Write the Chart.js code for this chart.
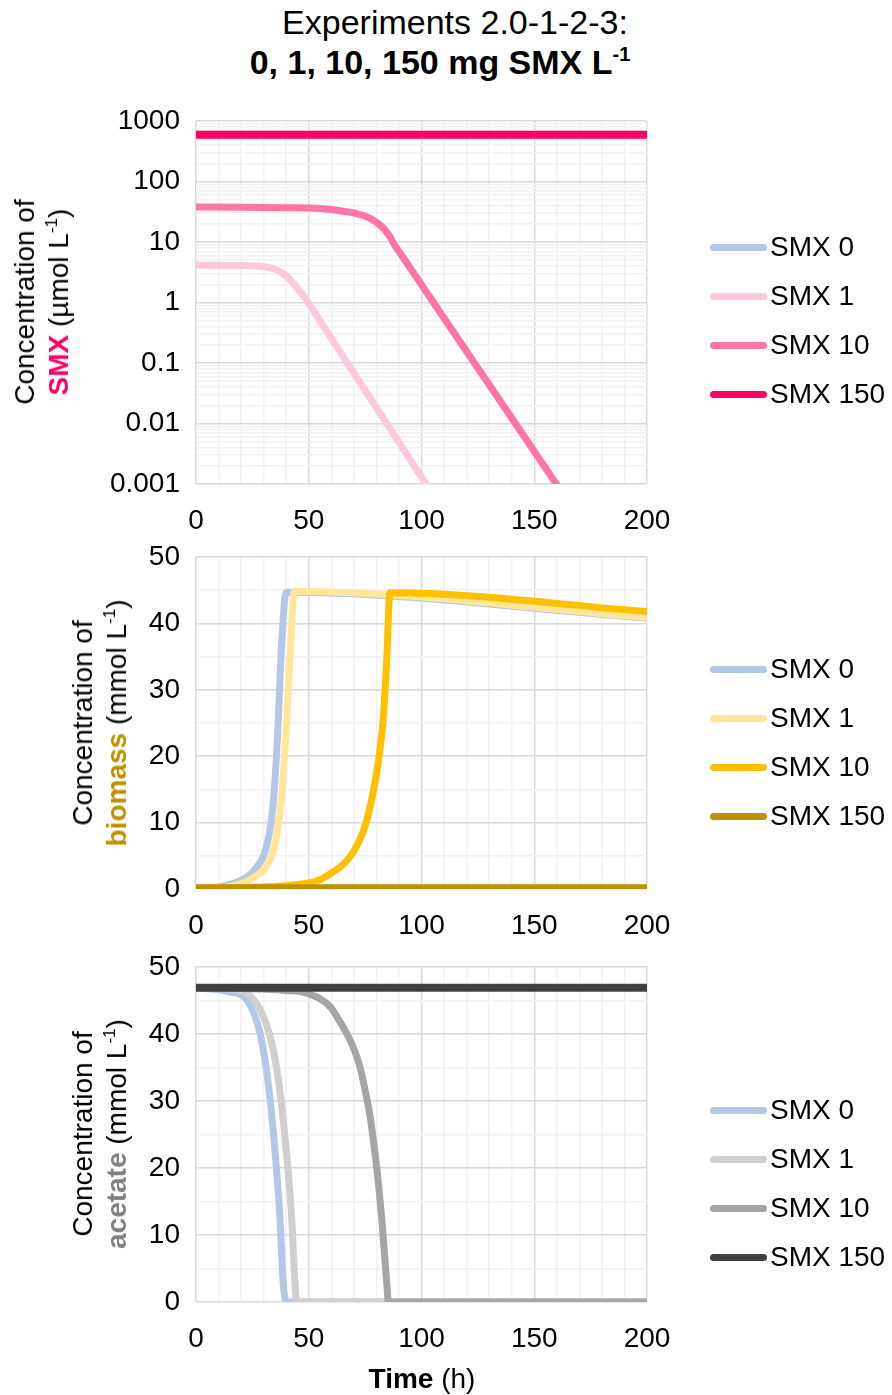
<!DOCTYPE html>
<html>
<head>
<meta charset="utf-8">
<script src="https://cdn.jsdelivr.net/npm/chart.js@4"></script>
<style>
  body { margin: 0; background: #fff; font-family: 'Liberation Sans', Arial, sans-serif; }
  #page { position: relative; width: 892px; height: 1395px; overflow: hidden; }
  canvas { position: absolute; left: 0; }
  .txt { position: absolute; white-space: nowrap; color: #000; font-size: 28px; line-height: 34px; }
  .title { transform: translateX(-50%); text-align: center; font-size: 34px; line-height: 40px; }
  .title sup { font-size: 20px; vertical-align: 13px; }
  .ytitle { transform: translate(-50%, -50%) rotate(-90deg); text-align: center; }
  sup { font-size: 17px; vertical-align: 11px; line-height: 0; }
  .leg { position: absolute; left: 710px; font-size: 28px; white-space: nowrap; }
  .leg span.ln { position: absolute; left: 0; top: -3px; width: 57px; height: 7px; border-radius: 3.5px; }
  .leg span.lb { position: absolute; left: 60px; top: -16px; }
</style>
</head>
<body>
<div id="page">
  <div class="txt title" style="left:455px; top:2px">Experiments 2.0-1-2-3:</div>
  <div class="txt title" style="left:440px; top:42px"><b>0, 1, 10, 150 mg SMX L<sup>-1</sup></b></div>

  <canvas id="c1" width="892" height="440" style="top:100px"></canvas>
  <canvas id="c2" width="892" height="410" style="top:540px"></canvas>
  <canvas id="c3" width="892" height="445" style="top:950px"></canvas>

  <div class="txt ytitle" style="left:42px; top:302px">Concentration of<br><b style="color:#FF0066">SMX</b> (µmol L<sup>-1</sup>)</div>
  <div class="txt ytitle" style="left:100px; top:723px">Concentration of<br><b style="color:#BF9000">biomass</b> (mmol L<sup>-1</sup>)</div>
  <div class="txt ytitle" style="left:100px; top:1134px">Concentration of<br><b style="color:#808080">acetate</b> (mmol L<sup>-1</sup>)</div>

  <div class="txt" style="left:422px; top:1362px; transform:translateX(-50%)"><b>Time</b> (h)</div>

  <div id="leg1"></div>
  <div id="leg2"></div>
  <div id="leg3"></div>
</div>

<script>
// legend names
var seriesNames = ['SMX 0', 'SMX 1', 'SMX 10', 'SMX 150'];

// x axis (time, h)
var timeMin = 0, timeMax = 200;

// SMX concentration (umol/L), log axis
var logTicks = [0.001, 0.01, 0.1, 1, 10, 100, 1000];
var smx0T = [0, 200];
var smx0V = [null, null];
var smx1T = [0, 20, 30, 34, 37.2, 40, 43, 45, 47.5, 50, 102, 120];
var smx1V = [4.15, 4.1, 3.9, 3.65, 3.25, 2.75, 2.1, 1.7, 1.33, 0.96, 0.001, 0.00009];
var smx10T = [0, 20, 40, 50.6, 60, 66.8, 72, 75.7, 79, 81.6, 84, 86, 88, 90.5, 100, 120, 140, 160, 200];
var smx10V = [38, 37.5, 36.8, 36.5, 34.5, 31.7, 29, 26.2, 22.5, 19.1, 15.5, 12.2, 9.0, 6.6, 1.96, 0.155, 0.0123, 0.00097, 0.000006];
var smx150T = [0, 200];
var smx150V = [590, 590];

// biomass (mmol/L)
var bio0T = [0, 10, 15, 20, 25, 28, 30, 32, 34, 36, 38, 40, 200];
var bio0V = [0.1, 0.3, 0.7, 1.3, 2.5, 3.8, 5, 7.5, 12, 22, 37, 44.7, 40.8];
var bio1T = [0, 10, 15, 20, 25, 28.4, 30, 33.5, 36, 38, 40, 42, 43.6, 200];
var bio1V = [0.1, 0.2, 0.4, 0.8, 1.6, 2.4, 2.9, 4.9, 8.5, 14, 24, 37, 44.8, 40.9];
var bio10T = [0, 20, 30, 40, 50, 55, 60, 65, 70, 75, 78.5, 81, 83, 84.5, 86, 200];
var bio10V = [0.1, 0.2, 0.3, 0.5, 0.9, 1.4, 2.4, 3.6, 5.7, 9.5, 14.5, 19.5, 25.5, 34, 44.6, 41.8];
var bio150T = [0, 200];
var bio150V = [0.1, 0.1];

// acetate (mmol/L)
var ace0T = [0, 15, 22.5, 28.4, 32, 35, 37.2, 38.7, 40, 200];
var ace0V = [46.9, 46.3, 45.1, 40.1, 32.7, 22.7, 12.7, 2.8, 0, 0];
var ace1T = [0, 15, 22.5, 29.9, 34.3, 37.2, 40.2, 42.4, 43.9, 44.6, 200];
var ace1V = [46.9, 46.7, 46.1, 42.6, 37.6, 31.5, 22.0, 12.7, 2.8, 0, 0];
var ace10T = [0, 20, 30, 40, 49.1, 59.4, 63, 66.8, 70, 72.7, 75, 77.2, 79, 80.1, 82.3, 84.6, 85.3, 200];
var ace10V = [46.9, 46.8, 46.7, 46.5, 46.1, 44.1, 42.3, 40.1, 37.8, 35.1, 31.6, 27.7, 23.2, 20.2, 12.7, 2.8, 0, 0];
var ace150T = [0, 200];
var ace150V = [46.9, 46.9];

var smxColors = ['#B4C7E7', '#FFC8DD', '#FF75A8', '#FF0066'];
var bioColors = ['#B4C7E7', '#FFE699', '#FFC000', '#BF9000'];
var aceColors = ['#B4C7E7', '#D0CECE', '#A5A5A5', '#404040'];

var FONT = "'Liberation Sans', Arial, sans-serif";
var MAJOR = '#D9D9D9', MINOR = '#F2F2F2';

function pts(t, v) {
    return t.map(function(x, i) { return { x: x, y: v[i] }; });
}

function makeSets(list, colors) {
    return list.map(function(s, i) {
        return {
            label: seriesNames[i],
            data: pts(s[0], s[1]),
            borderColor: colors[i],
            borderWidth: i == 3 ? 8 : 7,
            pointRadius: 0,
            cubicInterpolationMode: 'monotone',
            borderJoinStyle: 'round',
            order: 3 - i
        };
    });
}

function xAxis(h) {
    return {
        type: 'linear', min: timeMin, max: timeMax,
        ticks: {
            stepSize: 10, autoSkip: false, maxRotation: 0, padding: 20, color: '#000',
            font: { family: FONT, size: 28 },
            callback: function(v) { return v % 50 === 0 ? v : ''; }
        },
        grid: {
            drawTicks: false,
            color: function(c) { return c.tick && c.tick.value % 50 === 0 ? MAJOR : MINOR; },
            lineWidth: 1.5
        },
        border: { display: false },
        afterFit: function(s) { s.height = h; s.paddingLeft = 0; s.paddingRight = 0; }
    };
}

function fitY(s) {
    s.width = 196;
    s.paddingTop = 0;
    s.paddingBottom = 0;
}

function yLinear() {
    return {
        type: 'linear', min: 0, max: 50,
        ticks: {
            stepSize: 5, autoSkip: false, padding: 16, color: '#000',
            font: { family: FONT, size: 28 },
            callback: function(v) { return v % 10 === 0 ? v : ''; }
        },
        grid: {
            drawTicks: false,
            color: function(c) { return c.tick && c.tick.value % 10 === 0 ? MAJOR : MINOR; },
            lineWidth: 1.5
        },
        border: { display: false },
        afterFit: fitY
    };
}

function isDecade(v) {
    return logTicks.some(function(d) { return Math.abs(v / d - 1) < 1e-6; });
}

function yLog() {
    return {
        type: 'logarithmic', min: 0.001, max: 1000,
        afterBuildTicks: function(s) {
            var t = [];
            logTicks.forEach(function(d, k) {
                t.push({ value: d });
                if (k < logTicks.length - 1) {
                    for (var m = 2; m <= 9; m++) t.push({ value: d * m });
                }
            });
            s.ticks = t;
        },
        ticks: {
            autoSkip: false, padding: 16, color: '#000',
            font: { family: FONT, size: 28 },
            callback: function(v) {
                var d = logTicks.find(function(d) { return Math.abs(v / d - 1) < 1e-6; });
                return d === undefined ? '' : d.toString();
            }
        },
        grid: {
            drawTicks: false,
            color: function(c) { return c.tick && isDecade(c.tick.value) ? MAJOR : MINOR; },
            lineWidth: 1.5
        },
        border: { display: false },
        afterFit: fitY
    };
}

function makeChart(id, sets, yScale, padTop, xH) {
    new Chart(document.getElementById(id), {
        type: 'line',
        data: { datasets: sets },
        options: {
            responsive: false,
            animation: false,
            layout: { padding: { top: padTop, right: 245, left: 0, bottom: 0 } },
            plugins: { legend: { display: false }, tooltip: { enabled: false } },
            scales: { x: xAxis(xH), y: yScale }
        }
    });
}

makeChart('c1', makeSets([[smx0T, smx0V], [smx1T, smx1V], [smx10T, smx10V], [smx150T, smx150V]], smxColors), yLog(), 21, 56);
makeChart('c2', makeSets([[bio0T, bio0V], [bio1T, bio1V], [bio10T, bio10V], [bio150T, bio150V]], bioColors), yLinear(), 17, 61);
makeChart('c3', makeSets([[ace0T, ace0V], [ace1T, ace1V], [ace10T, ace10V], [ace150T, ace150V]], aceColors), yLinear(), 17, 93);

// html legends
function legend(id, colors, top) {
    var el = document.getElementById(id);
    seriesNames.forEach(function(n, i) {
        var d = document.createElement('div');
        d.className = 'leg';
        d.style.top = (top + i * 49) + 'px';
        d.innerHTML = '<span class="ln" style="background:' + colors[i] + '"></span><span class="lb">' + n + '</span>';
        el.appendChild(d);
    });
}
legend('leg1', smxColors, 247);
legend('leg2', bioColors, 669);
legend('leg3', aceColors, 1110);
</script>
</body>
</html>
